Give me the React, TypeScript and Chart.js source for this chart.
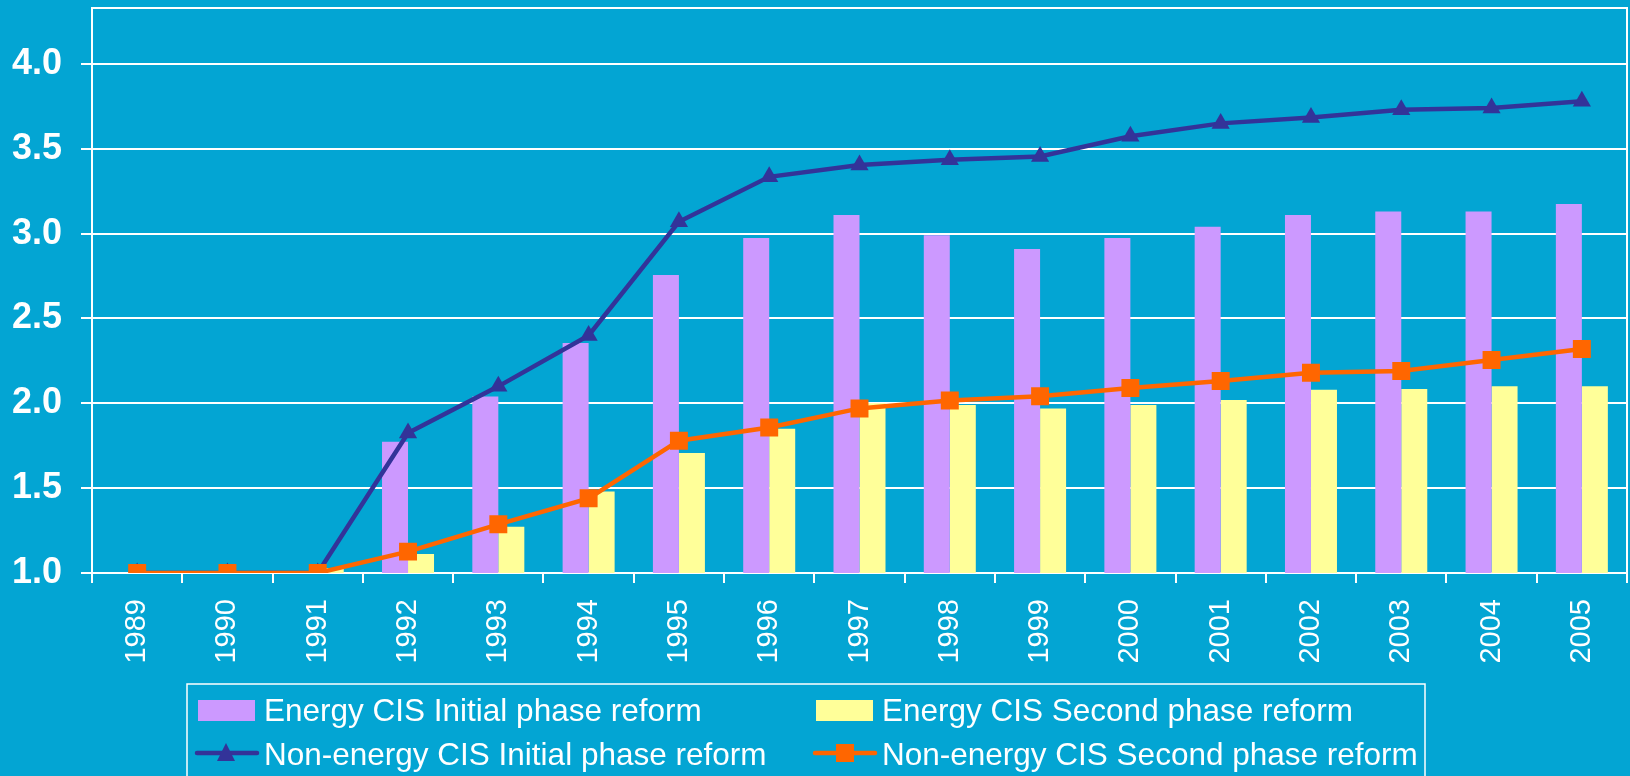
import React, { useEffect, useRef } from 'react';
import { Chart, registerables } from 'chart.js';

Chart.register(...registerables);

const years = ['1989', '1990', '1991', '1992', '1993', '1994', '1995', '1996', '1997', '1998', '1999', '2000', '2001', '2002', '2003', '2004', '2005'];
const energyInitial = [null, null, 1.0, 1.774, 2.04, 2.355, 2.756, 2.975, 3.11, 2.99, 2.91, 2.975, 3.04, 3.11, 3.13, 3.13, 3.175];
const energySecond = [null, null, 1.03, 1.112, 1.273, 1.48, 1.707, 1.85, 2.0, 1.99, 1.97, 1.99, 2.02, 2.08, 2.085, 2.1, 2.1];
const nonEnergyInitial = [1.0, 1.0, 1.0, 1.825, 2.1, 2.4, 3.07, 3.335, 3.405, 3.435, 3.455, 3.574, 3.65, 3.685, 3.73, 3.74, 3.78];
const nonEnergySecond = [1.0, 1.0, 1.0, 1.126, 1.287, 1.44, 1.78, 1.858, 1.97, 2.017, 2.042, 2.09, 2.132, 2.18, 2.19, 2.255, 2.32];
const yTickValues = [1.0, 1.5, 2.0, 2.5, 3.0, 3.5, 4.0];
const yMin = 1.0;
const yMax = 4.33;

const seriesNames = [
  'Energy CIS Initial phase reform',
  'Energy CIS Second phase reform',
  'Non-energy CIS Initial phase reform',
  'Non-energy CIS Second phase reform',
];

const BG = '#03A5D3';
const PURPLE = '#CC99FF';
const YELLOW = '#FFFF99';
const BLUE = '#333399';
const ORANGE = '#FF6600';
const FONT = '"Liberation Sans", Arial, sans-serif';

const framePlugin = {
  id: 'frame',
  beforeDatasetsDraw(chart: any) {
    const { ctx, chartArea } = chart;
    ctx.save();
    ctx.strokeStyle = '#FFFFFF';
    ctx.lineWidth = 2;
    ctx.strokeRect(chartArea.left, chartArea.top, chartArea.right - chartArea.left, chartArea.bottom - chartArea.top);
    ctx.restore();
  },
};

const legendPlugin = {
  id: 'customLegend',
  afterDraw(chart: any) {
    const ctx = chart.ctx;
    ctx.save();
    ctx.strokeStyle = '#FFFFFF';
    ctx.lineWidth = 1.5;
    ctx.strokeRect(187, 684, 1425 - 187, 140);
    ctx.font = `31.5px ${FONT}`;
    ctx.textBaseline = 'alphabetic';
    ctx.textAlign = 'left';
    const col1 = 198;
    const col2 = 816;
    const row1 = 721;
    const row2 = 765;
    ctx.fillStyle = PURPLE;
    ctx.fillRect(col1, 700, 57, 21);
    ctx.fillStyle = YELLOW;
    ctx.fillRect(col2, 700, 57, 21);
    ctx.fillStyle = '#FFFFFF';
    ctx.fillText(seriesNames[0], 264, row1);
    ctx.fillText(seriesNames[1], 882, row1);
    const ly = 753;
    ctx.lineWidth = 4.5;
    ctx.lineCap = 'round';
    ctx.strokeStyle = BLUE;
    ctx.beginPath();
    ctx.moveTo(col1 - 1, ly);
    ctx.lineTo(col1 + 59, ly);
    ctx.stroke();
    ctx.fillStyle = BLUE;
    ctx.beginPath();
    ctx.moveTo(col1 + 28, ly - 10);
    ctx.lineTo(col1 + 37, ly + 8);
    ctx.lineTo(col1 + 19, ly + 8);
    ctx.closePath();
    ctx.fill();
    ctx.strokeStyle = ORANGE;
    ctx.beginPath();
    ctx.moveTo(col2 - 1, ly);
    ctx.lineTo(col2 + 59, ly);
    ctx.stroke();
    ctx.fillStyle = ORANGE;
    ctx.fillRect(col2 + 20, ly - 9, 18, 18);
    ctx.fillStyle = '#FFFFFF';
    ctx.fillText(seriesNames[2], 264, row2);
    ctx.fillText(seriesNames[3], 882, row2);
    ctx.restore();
  },
};

export default function App() {
  const ref = useRef<HTMLCanvasElement | null>(null);

  useEffect(() => {
    if (!ref.current) return;
    const chart = new Chart(ref.current, {
      type: 'bar',
      data: {
        labels: years,
        datasets: [
          {
            type: 'line',
            label: seriesNames[3],
            data: nonEnergySecond,
            borderColor: ORANGE,
            backgroundColor: ORANGE,
            borderWidth: 4.5,
            pointStyle: 'rect',
            pointRadius: 12.7,
            pointBorderWidth: 0,
            pointBackgroundColor: ORANGE,
            tension: 0,
            order: 0,
          } as any,
          {
            type: 'line',
            label: seriesNames[2],
            data: nonEnergyInitial,
            borderColor: BLUE,
            backgroundColor: BLUE,
            borderWidth: 4.5,
            pointStyle: 'triangle',
            pointRadius: 10.5,
            pointBorderWidth: 0,
            pointBackgroundColor: BLUE,
            tension: 0,
            order: 1,
          } as any,
          {
            type: 'bar',
            label: seriesNames[0],
            data: energyInitial,
            backgroundColor: PURPLE,
            borderWidth: 0,
            categoryPercentage: 0.576,
            barPercentage: 1,
            order: 2,
          } as any,
          {
            type: 'bar',
            label: seriesNames[1],
            data: energySecond,
            backgroundColor: YELLOW,
            borderWidth: 0,
            categoryPercentage: 0.576,
            barPercentage: 1,
            order: 3,
          } as any,
        ],
      },
      options: {
        responsive: false,
        animation: false,
        devicePixelRatio: 1,
        layout: { autoPadding: false, padding: { top: 8, right: 3, left: 0, bottom: 0 } },
        plugins: {
          legend: { display: false },
          tooltip: { enabled: false },
          title: { display: false },
        },
        scales: {
          x: {
            type: 'category',
            offset: true,
            grid: {
              offset: true,
              drawOnChartArea: false,
              drawTicks: true,
              tickLength: 10,
              color: '#FFFFFF',
              lineWidth: 2,
            },
            border: { display: false },
            ticks: {
              autoSkip: false,
              minRotation: 90,
              maxRotation: 90,
              color: '#FFFFFF',
              padding: 16,
              font: { family: FONT, size: 29 },
            },
            afterFit(scale: any) {
              scale.height = 203;
              scale.paddingLeft = 0;
              scale.paddingRight = 0;
              scale.paddingTop = 0;
              scale.paddingBottom = 0;
            },
          },
          y: {
            type: 'linear',
            min: yMin,
            max: yMax,
            afterBuildTicks(scale: any) {
              scale.ticks = yTickValues.map((v) => ({ value: v }));
            },
            afterFit(scale: any) {
              scale.width = 92;
              scale.paddingTop = 0;
              scale.paddingBottom = 0;
              scale.paddingLeft = 0;
              scale.paddingRight = 0;
            },
            grid: {
              color: '#FFFFFF',
              lineWidth: 2,
              tickLength: 11,
              drawTicks: true,
            },
            border: { display: false },
            ticks: {
              color: '#FFFFFF',
              padding: 19,
              font: { family: FONT, size: 36, weight: 'bold' },
              callback: (v: any) => Number(v).toFixed(1),
            },
          },
        },
      },
      plugins: [framePlugin, legendPlugin],
    });
    return () => chart.destroy();
  }, []);

  return (
    <div style={{ position: 'absolute', left: 0, top: 0, width: 1630, height: 776, background: BG, overflow: 'hidden' }}>
      <canvas ref={ref} width={1630} height={776} style={{ display: 'block' }} />
    </div>
  );
}
